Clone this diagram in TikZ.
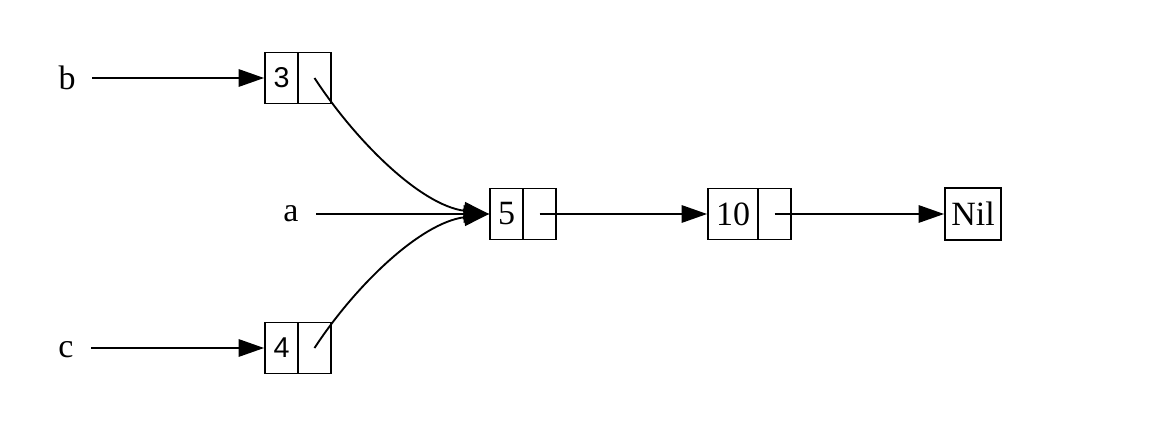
\documentclass[tikz,border=0pt]{standalone}
\usepackage{fontspec}
\setmainfont{Liberation Serif}
\newfontfamily\cellsans{Liberation Sans}
\usetikzlibrary{arrows.meta}

\tikzset{
  cell/.style={draw=black,line width=1.4pt,inner sep=0pt,minimum width=24.75pt,minimum height=38.25pt,font=\fontsize{25.5}{30}\selectfont},
  sanscell/.style={cell,font=\cellsans\fontsize{21.5}{25}\selectfont},
  varname/.style={inner sep=0pt,minimum width=37.5pt,font=\fontsize{25.5}{30}\selectfont},
  ptr/.style={line width=1.4pt,-{Triangle[length=19pt,width=13pt]}}
}

\begin{document}
\begin{tikzpicture}[x=0.75pt,y=-0.75pt]
\useasboundingbox (0,0) rectangle (1170,446);

% Draw the cons cells
\node[sanscell] (v3) at (281.5,78) {3};
\node[cell] (p3) at (314.5,78) {};
\node[cell] (v5) at (506.5,214) {5};
\node[cell] (p5) at (539.5,214) {};
\node[cell,minimum width=37.5pt] (v10) at (733,214) {10};
\node[cell] (p10) at (774.5,214) {};
\node[cell,minimum width=42pt,minimum height=39pt] (nil) at (973,214) {Nil};
\node[sanscell] (v4) at (281.5,348) {4};
\node[cell] (p4) at (314.5,348) {};

% Variable names
\node[varname] (b) at (67,78) {b};
\node[varname] (a) at (291,214) {a};
\node[varname] (c) at (66,350) {c};

% Pointers
\draw[ptr] (b.east) -- (v3.west);
\draw[ptr] (a.east) -- (v5.west);
\draw[ptr] (c.east |- v4.west) -- (v4.west);
\draw[ptr] (p5.center) -- (v10.west);
\draw[ptr] (p10.center) -- (nil.west);
\draw[ptr] (p3.center) .. controls (355,140) and (420,205) .. (v5.west);
\draw[ptr] (p4.center) .. controls (355,286) and (420,223) .. (v5.west);

\end{tikzpicture}
\end{document}
